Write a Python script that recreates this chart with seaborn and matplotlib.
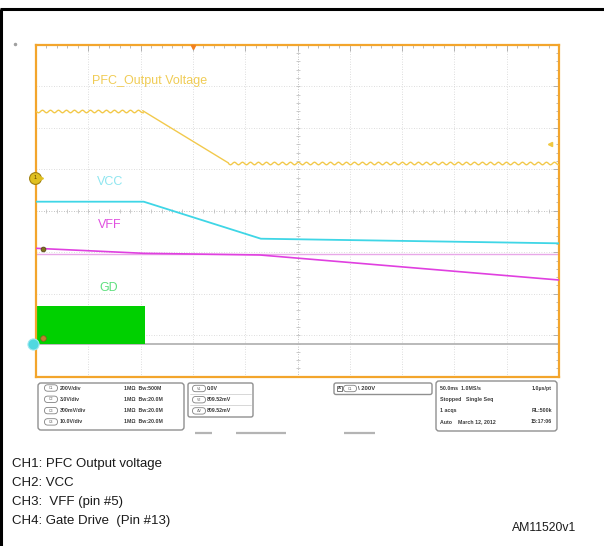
import numpy as np
import pandas as pd
import matplotlib
matplotlib.use("Agg")
import matplotlib.pyplot as plt
import seaborn as sns
from matplotlib.patches import FancyBboxPatch, Rectangle

# ---- captured traces (time in ms, amplitude in screen divisions) ----
pfc_t = [0, 102, 184, 500]
pfc_v = [2.41, 2.41, 1.15, 1.15]

vcc_t = [0, 103, 215, 500]
vcc_v = [0.217, 0.217, -0.675, -0.786]

vff_t = [0, 103, 214, 500]
vff_v = [-0.906, -1.027, -1.067, -1.67]
vff_ref = -1.036

gd_t = [0, 104]
gd_high = -2.29
gnd_level = -3.21

ch1_ground = 0.795
trig_time = 150
trig_level = 1.607

channel_names = ["PFC_Output Voltage", "VCC", "VFF", "GD"]
channel_colors = ["#f2c94c", "#3fd6e6", "#e040e0", "#00d000"]
label_colors = ["#f0cc55", "#8fe6f0", "#e050e0", "#5fe07f"]
label_pos = [(53.5, 3.125), (58.3, 0.70), (59.3, -0.345), (60.2, -1.855)]

scale_rows = [("C1", "200V/div", "1MΩ  Bw:500M"),
              ("C2", "3.0V/div", "1MΩ  Bw:20.0M"),
              ("C3", "300mV/div", "1MΩ  Bw:20.0M"),
              ("C4", "10.0V/div", "1MΩ  Bw:20.0M")]
cursor_rows = [("V1", "0.0V"), ("V2", "809.52mV"), ("ΔV", "809.52mV")]
acq_rows = [("50.0ms  1.0MS/s", "1.0µs/pt"),
            ("Stopped   Single Seq", ""),
            ("1 acqs", "RL:500k"),
            ("Auto    March 12, 2012", "15:17:06")]
legend_lines = ["CH1: PFC Output voltage", "CH2: VCC",
                "CH3:  VFF (pin #5)", "CH4: Gate Drive  (Pin #13)"]
doc_code = "AM11520v1"

sns.set_style("white")
plt.rcParams["font.family"] = ["Liberation Sans", "DejaVu Sans"]

W, H = 604, 546
fig = plt.figure(figsize=(W / 100, H / 100), dpi=100)

# pixel-space overlay for the page furniture
pg = fig.add_axes([0, 0, 1, 1], zorder=0)
pg.set_xlim(0, W)
pg.set_ylim(H, 0)
pg.axis("off")

# scope screen
ax_l, ax_r, ax_t, ax_b = 36, 559, 44.7, 376.7
ax = fig.add_axes([ax_l / W, (H - ax_b) / H, (ax_r - ax_l) / W, (ax_b - ax_t) / H], zorder=2)
ax.set_xlim(0, 500)
ax.set_ylim(-4, 4)

frame_col = "#f3a52c"
for s in ax.spines.values():
    s.set_color(frame_col)
    s.set_linewidth(1.6)

ax.set_xticks(np.arange(0, 501, 50))
ax.set_yticks(np.arange(-4, 4.01, 1))
ax.set_xticks(np.arange(0, 501, 10), minor=True)
ax.set_yticks(np.arange(-4, 4.01, 0.2), minor=True)
ax.tick_params(which="both", direction="in", top=True, right=True,
               labelbottom=False, labelleft=False, color="#b0b0b0")
ax.tick_params(which="major", length=4, width=0.7)
ax.tick_params(which="minor", length=2.5, width=0.6)

for x in np.arange(50, 500, 50):
    ax.axvline(x, color="#d2d2d2" if x != 250 else "#b0b0b0",
               lw=0.6, ls=(0, (1, 2)), zorder=0)
for y in np.arange(-3, 4, 1):
    ax.axhline(y, color="#d2d2d2" if y != 0 else "#b0b0b0",
               lw=0.6, ls=(0, (1, 2)), zorder=0)
# crosshair graduations
ax.plot(np.arange(0, 501, 10), np.zeros(51), ls="none", marker="|",
        ms=2.8, mew=0.5, color="#b8b8b8", zorder=0)
ax.plot(np.full(41, 250), np.arange(-4, 4.01, 0.2), ls="none", marker="_",
        ms=2.8, mew=0.5, color="#b8b8b8", zorder=0)

# ground / gate-drive baseline and VFF cursor
ax.axhline(gnd_level, color="#b4b4b4", lw=1.3, zorder=1)
ax.axhline(vff_ref, color="#e8a8e8", lw=1.0, zorder=1)

# gate drive switching envelope
ax.fill_between(gd_t, [gnd_level] * 2, [gd_high] * 2, color=channel_colors[3],
                lw=0, zorder=2)

# PFC output voltage with mains ripple on the flat parts
pfc = pd.DataFrame({"t": pfc_t, "v": pfc_v})
segments = [(0, 2, True), (1, 3, False), (2, 4, True)]
for a, b, ripple in segments:
    sns.lineplot(data=pfc.iloc[a:b], x="t", y="v", ax=ax, color=channel_colors[0],
                 lw=1.0, estimator=None, sort=False, zorder=3)
    if ripple:
        ax.lines[-1].set_sketch_params(scale=1.3, length=8, randomness=1)

vcc = pd.DataFrame({"t": vcc_t, "v": vcc_v})
sns.lineplot(data=vcc, x="t", y="v", ax=ax, color=channel_colors[1], lw=1.3,
             estimator=None, sort=False, zorder=3)
vff = pd.DataFrame({"t": vff_t, "v": vff_v})
sns.lineplot(data=vff, x="t", y="v", ax=ax, color=channel_colors[2], lw=1.2,
             estimator=None, sort=False, zorder=3)
ax.set_xlabel("")
ax.set_ylabel("")

for name, col, (tx, ty) in zip(channel_names, label_colors, label_pos):
    ax.text(tx, ty, name, color=col, fontsize=9, ha="left", va="center", zorder=4)

# channel markers
ax.plot([-1], [ch1_ground], marker="o", ms=8.5, mfc="#e0c020", mec="#a08010",
        mew=0.8, clip_on=False, zorder=6)
ax.plot([4], [ch1_ground], marker=">", ms=4, color="#e0c020", clip_on=False, zorder=6)
ax.text(-1, ch1_ground, "1", fontsize=4, ha="center", va="center", color="#604000",
        zorder=7, clip_on=False)
ax.plot([-3], [gnd_level], marker="o", ms=8, mfc="#50d8e0", mec="#a0e8f0",
        mew=0.8, clip_on=False, zorder=6)
ax.plot([6.5], [gnd_level + 0.14], marker="o", ms=4, mfc="#c08030", mec="#806020",
        mew=0.5, clip_on=False, zorder=7)
ax.plot([6.5], [vff_v[0] - 0.02], marker="o", ms=3.5, mfc="#807020", mec="#504010",
        mew=0.5, zorder=7)
ax.plot([trig_time], [3.94], marker="v", ms=3, color="#f08020", clip_on=False, zorder=6)
ax.plot([491], [trig_level], marker="<", ms=3, color="#f0c840", zorder=6)

# page border
pg.plot([0, W], [9, 9], color="black", lw=2.2, solid_capstyle="butt")
pg.plot([1, 1], [9, H], color="black", lw=2.2, solid_capstyle="butt")
pg.plot([15], [44], marker="o", ms=1.5, color="#a0a0a0")

box_ec = "#909090"
txt_c = "#3a3a3a"


def rbox(x0, y0, x1, y1, r=3):
    pg.add_patch(FancyBboxPatch((x0, y0), x1 - x0, y1 - y0,
                                boxstyle=f"round,pad=0,rounding_size={r}",
                                fc="white", ec=box_ec, lw=1.0))


def oval(xc, yc, label):
    pg.add_patch(FancyBboxPatch((xc - 6.5, yc - 3.2), 13, 6.4,
                                boxstyle="round,pad=0,rounding_size=3.2",
                                fc="white", ec="#808080", lw=0.6))
    pg.text(xc, yc, label, fontsize=2.6, ha="center", va="center", color="#606060")


# vertical scale box
rbox(38, 383, 184, 430)
for i, (c, vd, imp) in enumerate(scale_rows):
    yy = 388 + i * 11.3
    oval(51, yy, c)
    pg.text(60, yy, vd, fontsize=3.8, weight="bold", ha="left", va="center", color=txt_c)
    pg.text(124, yy, imp, fontsize=3.8, weight="bold", ha="left", va="center", color=txt_c)

# cursor readout box
rbox(188, 383, 253, 417, r=2)
for i, (c, val) in enumerate(cursor_rows):
    yy = 388.5 + i * 11.2
    oval(199, yy, c)
    pg.text(207, yy, val, fontsize=3.8, weight="bold", ha="left", va="center", color=txt_c)
    if i < 2:
        pg.plot([190, 251], [yy + 5.6, yy + 5.6], color="#c8c8c8", lw=0.5)

# trigger box
rbox(334, 383, 432, 394.5, r=2)
pg.add_patch(Rectangle((337, 385.7), 5, 5, fc="white", ec="#606060", lw=0.6))
pg.text(339.5, 388.3, "A", fontsize=3, ha="center", va="center", color=txt_c, weight="bold")
oval(350, 388.5, "C1")
pg.text(358, 388.5, "\\ 200V", fontsize=4.2, weight="bold", ha="left", va="center",
        color=txt_c)

# acquisition box
rbox(436, 381, 557, 431)
for i, (left, right) in enumerate(acq_rows):
    yy = 388.7 + i * 11
    pg.text(440, yy, left, fontsize=3.8, weight="bold", ha="left", va="center", color=txt_c)
    if right:
        pg.text(552, yy, right, fontsize=3.8, weight="bold", ha="right", va="center",
                color=txt_c)

# menu tabs under the screen
for x0, x1 in [(195, 212), (236, 286), (344, 375)]:
    pg.plot([x0, x1], [433, 433], color="#b4b4b4", lw=1.6, solid_capstyle="butt")

# channel legend and document code
for i, line in enumerate(legend_lines):
    pg.text(12, 463.5 + i * 19.1, line, fontsize=9.5, ha="left", va="center",
            color="#1a1a1a")
pg.text(576, 527.7, doc_code, fontsize=8.8, ha="right", va="center", color="#1a1a1a")

fig.savefig("out.png", dpi=100)
